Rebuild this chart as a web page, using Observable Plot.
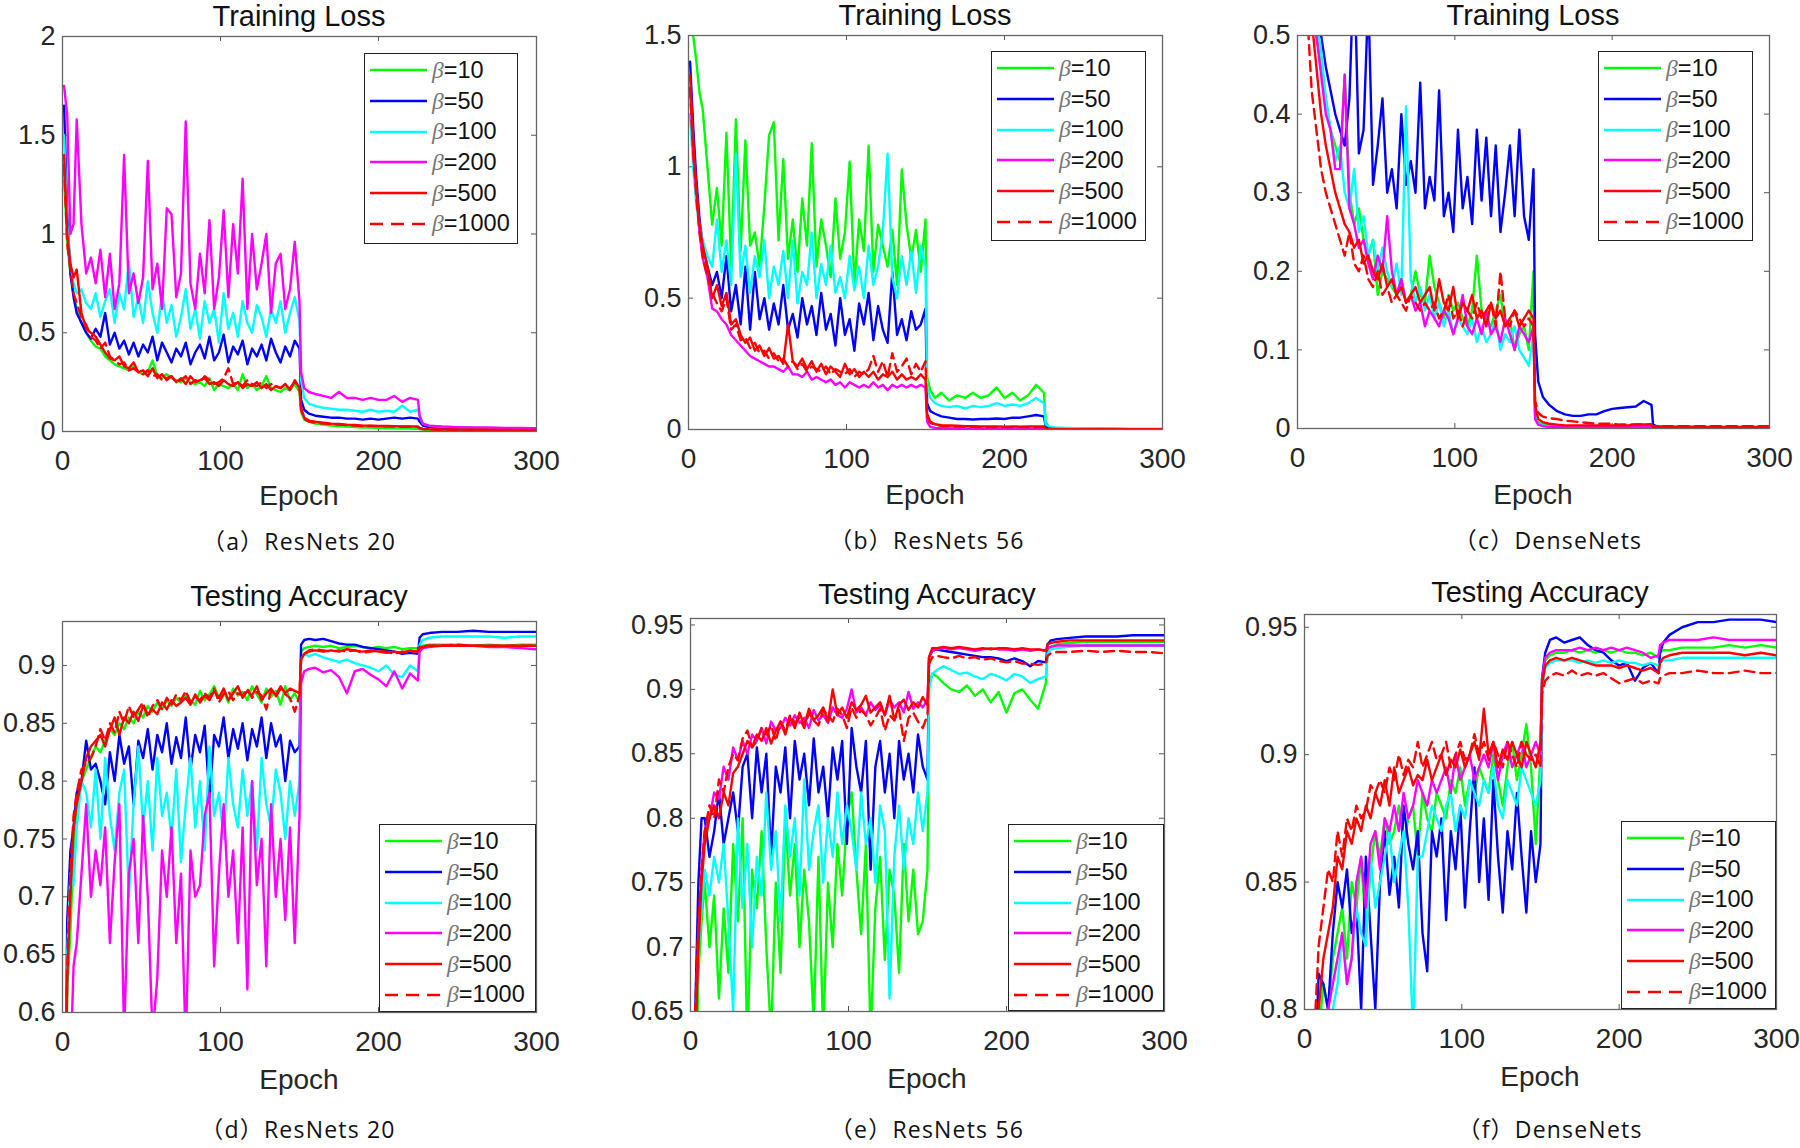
<!DOCTYPE html>
<html><head><meta charset="utf-8">
<script src="https://cdn.jsdelivr.net/npm/d3@7"></script>
<script src="https://cdn.jsdelivr.net/npm/@observablehq/plot@0.6"></script>
<style>
html,body{margin:0;padding:0;background:#fff;}
#page{position:relative;width:1800px;height:1148px;overflow:hidden;background:#fff;}
.lbl{position:absolute;transform:translate(-50%,-50%);white-space:nowrap;line-height:1;}
.title{font:29px "Liberation Sans",Arial,sans-serif;color:#111;}
.axl{font:28px "Liberation Sans",Arial,sans-serif;color:#262626;}
.cap{font-family:"Open Sans","Noto Sans CJK SC",sans-serif;font-size:23px;color:#111;letter-spacing:1.2px;line-height:1.2;}
.legend{position:absolute;box-sizing:border-box;border:1.5px solid #222;background:#fff;padding-top:1px;}
.row{display:flex;align-items:center;font:23.5px "Liberation Sans",Arial,sans-serif;color:#111;height:30.7px;}
.row svg{margin-left:5px;margin-right:5px;flex:none;}
.beta{font-family:"Liberation Serif","DejaVu Serif",serif;font-style:italic;color:#777;}
</style></head><body><div id="page"></div>
<script>
// ---------------- data ----------------
const epochs = [1,3,5,7,9,12,15,18,21,24,27,30,33,36,39,42,45,48,51,54,57,60,63,66,69,72,75,78,81,84,87,90,93,96,99,102,105,108,111,114,117,120,123,126,129,132,135,138,141,144,147,150,
  151,153,156,160,165,170,175,180,185,190,195,200,205,210,215,220,225,
  226,228,232,240,250,260,270,280,290,300];
const betaLabels = ["10","50","100","200","500","1000"];
const xTicks = [0,100,200,300];

// (a) Training loss, ResNets 20
const lossA10 = [1.30,0.95,0.80,0.70,0.62,0.55,0.50,0.46,0.43,0.42, 0.38,0.36,0.34,0.33,0.32,0.31,0.33,0.30,0.29,0.30, 0.36,0.28,0.27,0.29,0.27,0.26,0.25,0.27,0.25,0.24, 0.25,0.23,0.27,0.21,0.24,0.23,0.22,0.24,0.21,0.29, 0.22,0.24,0.21,0.23,0.28,0.22,0.21,0.20,0.22,0.21, 0.24,0.20,
  0.10,0.06,0.05,0.04,0.035,0.03,0.028,0.025,0.022,0.02,0.02,0.018,0.018,0.016,0.015,0.015,0.014,
  0.012,0.01,0.008,0.007,0.006,0.006,0.005,0.005,0.005,0.005];
const lossA50 = [1.65,1.10,0.80,0.68,0.60,0.55,0.50,0.47,0.52,0.48, 0.60,0.44,0.50,0.42,0.46,0.39,0.45,0.38,0.44,0.40, 0.48,0.36,0.45,0.40,0.35,0.42,0.38,0.45,0.34,0.40, 0.44,0.37,0.48,0.36,0.40,0.49,0.35,0.43,0.39,0.46, 0.34,0.42,0.38,0.44,0.36,0.47,0.40,0.35,0.43,0.38, 0.46,0.42,
  0.16,0.11,0.09,0.08,0.075,0.07,0.07,0.065,0.065,0.06,0.065,0.06,0.065,0.07,0.065,0.07,0.065,
  0.05,0.03,0.022,0.018,0.015,0.013,0.012,0.011,0.01,0.01];
const lossA100 = [1.50,1.05,0.85,0.75,0.70,0.72,0.65,0.62,0.70,0.58, 0.66,0.72,0.55,0.70,0.62,0.86,0.58,0.68,0.55,0.76, 0.60,0.50,0.70,0.55,0.64,0.48,0.58,0.72,0.52,0.62, 0.47,0.66,0.55,0.62,0.45,0.70,0.52,0.60,0.48,0.66, 0.55,0.50,0.64,0.58,0.48,0.62,0.55,0.66,0.50,0.60, 0.68,0.56,
  0.26,0.17,0.14,0.13,0.12,0.115,0.11,0.11,0.105,0.10,0.11,0.10,0.105,0.10,0.13,0.10,0.11,
  0.08,0.04,0.03,0.024,0.02,0.018,0.016,0.015,0.014,0.013];
const lossA200 = [1.75,1.60,1.00,1.05,1.58,1.05,0.80,0.88,0.75,0.92, 0.68,0.90,0.62,0.75,1.40,0.70,0.80,0.65,0.78,1.37, 0.72,0.85,0.62,1.13,1.10,0.68,0.80,1.57,0.75,0.62, 0.90,0.70,1.07,0.62,0.78,1.12,0.68,1.05,0.80,1.28, 0.62,1.00,0.72,0.85,1.00,0.60,0.85,0.90,0.62,0.72, 0.96,0.66,
  0.30,0.22,0.20,0.19,0.18,0.17,0.20,0.17,0.17,0.16,0.17,0.16,0.16,0.18,0.15,0.17,0.16,
  0.08,0.04,0.03,0.025,0.022,0.02,0.02,0.018,0.018,0.017];
const lossA500 = [1.40,1.00,0.85,0.78,0.82,0.60,0.52,0.50,0.48,0.44, 0.40,0.37,0.36,0.38,0.33,0.32,0.35,0.30,0.31,0.28, 0.32,0.27,0.29,0.26,0.28,0.25,0.27,0.24,0.28,0.25, 0.26,0.27,0.24,0.25,0.23,0.26,0.24,0.23,0.25,0.22, 0.24,0.23,0.25,0.22,0.24,0.21,0.23,0.22,0.24,0.21, 0.26,0.22,
  0.12,0.07,0.055,0.05,0.045,0.04,0.038,0.035,0.033,0.03,0.03,0.028,0.028,0.027,0.026,0.026,0.025,
  0.018,0.014,0.012,0.01,0.01,0.009,0.009,0.008,0.008,0.008];
const lossA1000 = [1.35,0.95,0.82,0.70,0.65,0.58,0.54,0.48,0.46,0.42, 0.45,0.38,0.36,0.34,0.35,0.31,0.32,0.30,0.29,0.31, 0.28,0.29,0.26,0.27,0.28,0.25,0.26,0.28,0.24,0.26, 0.25,0.28,0.26,0.24,0.25,0.27,0.32,0.24,0.25,0.23, 0.26,0.24,0.23,0.25,0.22,0.24,0.23,0.22,0.24,0.22, 0.25,0.23,
  0.11,0.065,0.05,0.045,0.04,0.037,0.035,0.032,0.03,0.028,0.028,0.027,0.026,0.025,0.024,0.024,0.023,
  0.016,0.012,0.01,0.009,0.008,0.008,0.007,0.007,0.007,0.007];

// (b) Training loss, ResNets 56
const lossB10 = [1.60,1.50,1.40,1.28,1.22,1.00,0.78,0.92,0.70,1.13, 0.62,1.18,0.68,1.10,0.70,0.75,0.62,0.85,1.12,1.17, 0.72,1.03,0.65,0.80,0.60,0.88,0.70,1.09,0.62,0.80, 0.70,0.58,0.88,0.65,0.75,1.02,0.55,0.80,0.68,1.08, 0.60,0.78,0.70,0.62,0.76,0.55,0.99,0.78,0.65,0.76, 0.60,0.80,
  0.20,0.15,0.12,0.14,0.11,0.13,0.12,0.14,0.12,0.13,0.16,0.12,0.14,0.11,0.13,0.17,0.14,
  0.03,0.01,0.006,0.004,0.003,0.003,0.002,0.002,0.002,0.002];
const lossB50 = [1.40,1.15,0.95,0.80,0.70,0.62,0.55,0.60,0.50,0.66, 0.45,0.55,0.40,0.62,0.38,0.60,0.42,0.50,0.38,0.48, 0.40,0.55,0.38,0.44,0.35,0.50,0.40,0.47,0.36,0.52, 0.38,0.44,0.32,0.50,0.36,0.42,0.30,0.48,0.40,0.52, 0.34,0.47,0.38,0.33,0.60,0.36,0.42,0.34,0.45,0.38, 0.40,0.46,
  0.10,0.07,0.06,0.05,0.045,0.04,0.04,0.038,0.04,0.04,0.042,0.04,0.045,0.045,0.05,0.055,0.05,
  0.012,0.006,0.004,0.003,0.002,0.002,0.002,0.001,0.001,0.001];
const lossB100 = [1.20,1.00,0.85,0.78,0.72,0.66,0.62,0.80,0.60,0.72, 0.55,1.05,0.58,0.70,0.52,0.66,0.58,0.72,0.50,0.62, 0.55,0.68,0.50,0.72,0.48,0.60,0.55,0.75,0.50,0.63, 0.55,0.70,0.52,0.58,0.50,0.66,0.53,0.62,0.50,0.70, 0.55,0.62,0.75,1.05,0.58,0.50,0.66,0.55,0.68,0.52, 0.70,0.62,
  0.16,0.12,0.10,0.09,0.085,0.09,0.08,0.09,0.085,0.09,0.10,0.09,0.095,0.09,0.10,0.12,0.10,
  0.02,0.012,0.008,0.006,0.004,0.003,0.003,0.002,0.002,0.002];
const lossB200 = [1.30,1.05,0.90,0.75,0.65,0.58,0.46,0.45,0.42,0.40, 0.36,0.34,0.32,0.30,0.28,0.27,0.26,0.25,0.24,0.24, 0.23,0.22,0.24,0.21,0.21,0.20,0.22,0.19,0.20,0.19, 0.18,0.19,0.17,0.18,0.16,0.18,0.17,0.16,0.17,0.16, 0.18,0.16,0.17,0.15,0.17,0.16,0.17,0.16,0.17,0.16, 0.17,0.16,
  0.03,0.01,0.006,0.005,0.004,0.004,0.003,0.003,0.003,0.003,0.003,0.003,0.003,0.003,0.003,0.003,0.003,
  0.002,0.001,0.001,0.001,0.001,0.001,0.001,0.001,0.001,0.001];
const lossB500 = [1.35,1.10,0.92,0.78,0.70,0.62,0.50,0.55,0.47,0.52, 0.40,0.42,0.36,0.33,0.35,0.30,0.32,0.28,0.31,0.27, 0.28,0.25,0.40,0.26,0.24,0.27,0.23,0.26,0.22,0.25, 0.21,0.24,0.22,0.20,0.25,0.21,0.23,0.20,0.22,0.20, 0.22,0.19,0.21,0.20,0.22,0.19,0.21,0.19,0.20,0.19, 0.21,0.19,
  0.06,0.03,0.02,0.016,0.015,0.014,0.013,0.013,0.012,0.012,0.012,0.011,0.012,0.011,0.012,0.012,0.012,
  0.003,0.002,0.002,0.001,0.001,0.001,0.001,0.001,0.001,0.001];
const lossB1000 = [1.30,1.05,0.88,0.75,0.66,0.58,0.52,0.48,0.45,0.50, 0.38,0.40,0.34,0.35,0.31,0.33,0.29,0.30,0.27,0.29, 0.26,0.27,0.24,0.26,0.23,0.25,0.22,0.24,0.23,0.22, 0.24,0.21,0.23,0.22,0.21,0.23,0.20,0.22,0.21,0.23, 0.28,0.22,0.26,0.20,0.29,0.22,0.24,0.27,0.21,0.25, 0.22,0.26,
  0.05,0.025,0.018,0.014,0.012,0.011,0.01,0.01,0.009,0.009,0.009,0.009,0.009,0.009,0.009,0.009,0.009,
  0.003,0.002,0.001,0.001,0.001,0.001,0.001,0.001,0.001,0.001];

// (c) Training loss, DenseNets
const lossC10 = [1.50,1.00,0.80,0.65,0.55,0.50,0.46,0.42,0.38,0.36, 0.34,0.45,0.30,0.26,0.28,0.24,0.22,0.24,0.17,0.20, 0.19,0.18,0.17,0.19,0.16,0.17,0.20,0.17,0.16,0.22, 0.18,0.16,0.14,0.17,0.15,0.16,0.14,0.13,0.15,0.22, 0.15,0.14,0.13,0.15,0.17,0.13,0.14,0.10,0.12,0.13, 0.10,0.20,
  0.02,0.008,0.005,0.004,0.003,0.003,0.003,0.003,0.003,0.003,0.003,0.003,0.003,0.003,0.003,0.003,0.003,
  0.002,0.002,0.002,0.002,0.002,0.002,0.002,0.002,0.002,0.002];
const lossC50 = [1.60,1.10,0.85,0.70,0.60,0.55,0.50,0.46,0.43,0.40, 0.38,0.36,0.42,0.60,0.35,0.38,0.55,0.31,0.36,0.42, 0.30,0.33,0.28,0.40,0.31,0.34,0.30,0.44,0.28,0.32, 0.29,0.43,0.27,0.30,0.25,0.38,0.28,0.32,0.26,0.38, 0.29,0.37,0.27,0.36,0.25,0.30,0.36,0.27,0.38,0.27, 0.24,0.33,
  0.12,0.06,0.04,0.03,0.022,0.018,0.016,0.016,0.018,0.018,0.022,0.025,0.026,0.027,0.028,0.035,0.03,
  0.005,0.003,0.002,0.002,0.002,0.001,0.001,0.001,0.001,0.001];
const lossC100 = [1.55,1.05,0.82,0.66,0.56,0.52,0.48,0.42,0.38,0.34, 0.36,0.30,0.28,0.33,0.25,0.27,0.22,0.24,0.20,0.23, 0.20,0.18,0.21,0.17,0.41,0.19,0.16,0.18,0.15,0.17, 0.14,0.16,0.13,0.15,0.12,0.14,0.13,0.12,0.14,0.11, 0.13,0.11,0.12,0.14,0.10,0.12,0.11,0.13,0.10,0.09, 0.08,0.12,
  0.015,0.006,0.004,0.003,0.002,0.002,0.002,0.002,0.002,0.002,0.002,0.002,0.002,0.002,0.002,0.002,0.002,
  0.001,0.001,0.001,0.001,0.001,0.001,0.001,0.001,0.001,0.001];
const lossC200 = [1.50,1.00,0.78,0.62,0.54,0.50,0.45,0.40,0.38,0.33, 0.33,0.45,0.28,0.26,0.23,0.24,0.21,0.19,0.22,0.20, 0.27,0.20,0.17,0.19,0.16,0.17,0.15,0.16,0.13,0.15, 0.14,0.13,0.15,0.14,0.12,0.14,0.17,0.13,0.12,0.14, 0.12,0.15,0.12,0.13,0.11,0.14,0.12,0.10,0.13,0.12, 0.11,0.13,
  0.012,0.005,0.003,0.002,0.002,0.002,0.002,0.002,0.002,0.002,0.002,0.002,0.002,0.002,0.002,0.002,0.002,
  0.001,0.001,0.001,0.001,0.001,0.001,0.001,0.001,0.001,0.001];
const lossC500 = [1.40,0.95,0.75,0.60,0.52,0.46,0.40,0.36,0.33,0.30, 0.28,0.26,0.25,0.23,0.24,0.21,0.22,0.20,0.19,0.21, 0.18,0.19,0.17,0.18,0.16,0.17,0.18,0.16,0.17,0.18, 0.15,0.19,0.16,0.15,0.18,0.14,0.16,0.15,0.17,0.14, 0.15,0.13,0.16,0.14,0.15,0.13,0.14,0.15,0.13,0.14, 0.15,0.14,
  0.03,0.012,0.008,0.006,0.005,0.004,0.004,0.004,0.004,0.004,0.004,0.004,0.004,0.004,0.005,0.005,0.005,
  0.002,0.002,0.002,0.002,0.002,0.002,0.002,0.002,0.002,0.002];
const lossC1000 = [1.20,0.80,0.60,0.50,0.43,0.38,0.33,0.30,0.28,0.26, 0.24,0.22,0.25,0.21,0.20,0.22,0.19,0.18,0.20,0.17, 0.18,0.16,0.17,0.16,0.15,0.17,0.16,0.15,0.16,0.15, 0.16,0.14,0.15,0.17,0.14,0.15,0.13,0.15,0.14,0.16, 0.14,0.15,0.16,0.13,0.20,0.14,0.13,0.15,0.14,0.13, 0.14,0.13,
  0.035,0.02,0.015,0.013,0.012,0.01,0.009,0.008,0.007,0.006,0.006,0.006,0.005,0.005,0.005,0.005,0.005,
  0.003,0.003,0.003,0.003,0.003,0.003,0.003,0.003,0.003,0.003];

// (d) Testing accuracy, ResNets 20
const accD10 = [0.40,0.62,0.67,0.74,0.78,0.80,0.81,0.82,0.83,0.825, 0.835,0.845,0.84,0.85,0.845,0.855,0.85,0.86,0.855,0.865, 0.86,0.868,0.862,0.87,0.865,0.872,0.868,0.875,0.87,0.866, 0.878,0.87,0.875,0.882,0.872,0.878,0.868,0.88,0.874,0.877, 0.87,0.882,0.875,0.868,0.88,0.873,0.878,0.866,0.882,0.87, 0.876,0.868,
  0.912,0.915,0.916,0.917,0.916,0.917,0.915,0.916,0.917,0.916,0.915,0.916,0.915,0.916,0.914,0.915,0.915,
  0.916,0.917,0.918,0.918,0.918,0.917,0.918,0.917,0.918,0.918];
const accD50 = [0.45,0.68,0.74,0.76,0.79,0.80,0.835,0.81,0.815,0.80, 0.78,0.825,0.80,0.84,0.815,0.83,0.78,0.835,0.82,0.845, 0.81,0.84,0.825,0.85,0.815,0.838,0.82,0.855,0.81,0.84, 0.825,0.848,0.785,0.84,0.83,0.855,0.82,0.845,0.828,0.85, 0.818,0.845,0.83,0.855,0.82,0.85,0.83,0.84,0.80,0.835, 0.825,0.83,
  0.918,0.922,0.923,0.922,0.923,0.921,0.919,0.918,0.918,0.916,0.915,0.914,0.913,0.912,0.91,0.911,0.91,
  0.924,0.927,0.928,0.929,0.929,0.93,0.929,0.929,0.929,0.929];
const accD100 = [0.42,0.65,0.72,0.71,0.76,0.80,0.79,0.76,0.81,0.75, 0.82,0.77,0.74,0.79,0.81,0.70,0.78,0.83,0.76,0.80, 0.74,0.82,0.77,0.79,0.75,0.81,0.73,0.78,0.82,0.76, 0.80,0.74,0.83,0.77,0.79,0.75,0.82,0.78,0.76,0.81, 0.77,0.80,0.74,0.82,0.78,0.76,0.81,0.79,0.75,0.80, 0.77,0.80,
  0.905,0.91,0.908,0.91,0.907,0.905,0.903,0.905,0.902,0.90,0.898,0.895,0.9,0.892,0.89,0.9,0.895,
  0.918,0.922,0.924,0.925,0.925,0.925,0.925,0.924,0.925,0.925];
const accD200 = [0.35,0.50,0.55,0.64,0.66,0.72,0.78,0.70,0.74,0.71, 0.76,0.66,0.73,0.78,0.58,0.72,0.75,0.66,0.77,0.70, 0.58,0.63,0.74,0.70,0.76,0.66,0.72,0.57,0.74,0.70, 0.71,0.77,0.79,0.64,0.72,0.78,0.70,0.74,0.66,0.76, 0.62,0.80,0.71,0.75,0.64,0.78,0.70,0.75,0.68,0.76, 0.66,0.77,
  0.885,0.895,0.897,0.898,0.894,0.896,0.89,0.876,0.895,0.897,0.892,0.888,0.882,0.895,0.88,0.893,0.887,
  0.912,0.915,0.916,0.917,0.917,0.917,0.916,0.916,0.915,0.914];
const accD500 = [0.40,0.63,0.70,0.76,0.78,0.80,0.82,0.83,0.835,0.84, 0.83,0.845,0.855,0.84,0.855,0.85,0.86,0.852,0.865,0.858, 0.862,0.858,0.868,0.862,0.87,0.865,0.868,0.872,0.866,0.875, 0.868,0.874,0.87,0.878,0.872,0.88,0.87,0.876,0.882,0.872, 0.878,0.874,0.882,0.87,0.876,0.88,0.874,0.882,0.876,0.88, 0.878,0.876,
  0.905,0.91,0.912,0.913,0.912,0.913,0.912,0.914,0.913,0.912,0.913,0.912,0.911,0.912,0.911,0.913,0.912,
  0.915,0.916,0.917,0.917,0.917,0.917,0.917,0.917,0.917,0.917];
const accD1000 = [0.42,0.64,0.72,0.77,0.79,0.81,0.815,0.82,0.83,0.845, 0.835,0.85,0.842,0.86,0.85,0.865,0.855,0.862,0.868,0.855, 0.865,0.87,0.862,0.872,0.866,0.875,0.87,0.878,0.868,0.873, 0.87,0.876,0.872,0.88,0.868,0.875,0.878,0.87,0.876,0.874, 0.88,0.872,0.877,0.874,0.862,0.878,0.873,0.88,0.875,0.872, 0.86,0.874,
  0.906,0.91,0.913,0.914,0.913,0.912,0.913,0.912,0.913,0.911,0.912,0.913,0.912,0.91,0.912,0.911,0.913,
  0.916,0.917,0.917,0.917,0.918,0.917,0.917,0.917,0.917,0.917];

// (e) Testing accuracy, ResNets 56
const accE10 = [0.40,0.55,0.68,0.72,0.75,0.70,0.74,0.66,0.73,0.68, 0.78,0.72,0.80,0.62,0.76,0.73,0.79,0.70,0.63,0.75, 0.68,0.80,0.74,0.78,0.70,0.76,0.72,0.64,0.77,0.63, 0.75,0.70,0.78,0.74,0.80,0.82,0.76,0.71,0.78,0.63, 0.73,0.77,0.69,0.76,0.74,0.68,0.78,0.72,0.76,0.71, 0.72,0.76,
  0.905,0.912,0.91,0.905,0.9,0.898,0.903,0.895,0.9,0.89,0.898,0.882,0.897,0.9,0.892,0.885,0.905,
  0.93,0.933,0.935,0.936,0.937,0.937,0.937,0.937,0.937,0.937];
const accE50 = [0.45,0.65,0.75,0.80,0.80,0.77,0.79,0.82,0.78,0.80, 0.82,0.79,0.84,0.85,0.80,0.855,0.82,0.85,0.77,0.84, 0.82,0.855,0.80,0.86,0.83,0.85,0.81,0.862,0.82,0.84, 0.80,0.855,0.83,0.86,0.78,0.87,0.84,0.82,0.86,0.76, 0.84,0.86,0.82,0.85,0.80,0.86,0.83,0.85,0.82,0.865, 0.84,0.83,
  0.925,0.93,0.931,0.93,0.929,0.928,0.927,0.926,0.925,0.925,0.924,0.922,0.924,0.922,0.918,0.922,0.921,
  0.935,0.938,0.939,0.94,0.941,0.941,0.941,0.942,0.942,0.942];
const accE100 = [0.42,0.62,0.70,0.73,0.76,0.74,0.77,0.75,0.78,0.72, 0.65,0.80,0.73,0.78,0.70,0.77,0.74,0.82,0.76,0.79, 0.72,0.81,0.77,0.80,0.74,0.83,0.76,0.79,0.81,0.75, 0.80,0.77,0.82,0.78,0.81,0.79,0.76,0.82,0.78,0.80, 0.75,0.81,0.79,0.66,0.77,0.81,0.76,0.80,0.78,0.82, 0.79,0.82,
  0.9,0.912,0.915,0.918,0.915,0.912,0.913,0.91,0.908,0.912,0.91,0.907,0.912,0.91,0.905,0.908,0.91,
  0.928,0.931,0.932,0.933,0.934,0.934,0.934,0.934,0.934,0.934];
const accE200 = [0.40,0.63,0.71,0.76,0.79,0.80,0.82,0.815,0.84,0.83, 0.855,0.845,0.86,0.85,0.865,0.86,0.87,0.858,0.875,0.868, 0.87,0.878,0.872,0.88,0.874,0.878,0.87,0.884,0.876,0.88, 0.874,0.886,0.88,0.878,0.885,0.9,0.882,0.886,0.88,0.89, 0.884,0.888,0.88,0.892,0.886,0.89,0.882,0.898,0.885,0.89, 0.886,0.892,
  0.925,0.93,0.931,0.932,0.931,0.932,0.931,0.93,0.931,0.932,0.931,0.931,0.93,0.931,0.93,0.931,0.93,
  0.932,0.933,0.934,0.934,0.934,0.934,0.934,0.934,0.934,0.934];
const accE500 = [0.38,0.62,0.70,0.75,0.78,0.80,0.81,0.80,0.82,0.81, 0.835,0.84,0.85,0.86,0.855,0.865,0.86,0.87,0.858,0.868, 0.875,0.865,0.878,0.87,0.882,0.872,0.885,0.876,0.88,0.886, 0.875,0.9,0.88,0.886,0.878,0.89,0.884,0.888,0.895,0.882, 0.886,0.89,0.88,0.895,0.876,0.888,0.892,0.884,0.89,0.886, 0.894,0.888,
  0.925,0.932,0.932,0.933,0.932,0.933,0.932,0.931,0.932,0.931,0.932,0.932,0.931,0.932,0.931,0.931,0.93,
  0.935,0.936,0.937,0.938,0.938,0.938,0.938,0.938,0.938,0.938];
const accE1000 = [0.40,0.65,0.72,0.76,0.79,0.81,0.80,0.83,0.82,0.84, 0.85,0.845,0.862,0.868,0.855,0.86,0.87,0.865,0.872,0.86, 0.875,0.868,0.88,0.874,0.878,0.87,0.882,0.876,0.872,0.884, 0.88,0.875,0.885,0.88,0.87,0.886,0.878,0.884,0.88,0.872, 0.878,0.885,0.868,0.88,0.876,0.884,0.86,0.878,0.882,0.875, 0.87,0.88,
  0.92,0.925,0.926,0.925,0.924,0.926,0.924,0.925,0.923,0.924,0.922,0.921,0.922,0.92,0.92,0.919,0.92,
  0.926,0.928,0.929,0.929,0.93,0.929,0.93,0.929,0.929,0.928];

// (f) Testing accuracy, DenseNets
const accF10 = [0.55,0.65,0.72,0.76,0.79,0.81,0.80,0.82,0.83,0.84, 0.82,0.85,0.84,0.86,0.83,0.855,0.87,0.86,0.875,0.865, 0.87,0.88,0.865,0.875,0.88,0.86,0.885,0.875,0.87,0.885, 0.88,0.875,0.89,0.885,0.895,0.88,0.89,0.885,0.895,0.89, 0.885,0.9,0.89,0.88,0.895,0.905,0.89,0.9,0.912,0.895, 0.865,0.9,
  0.93,0.937,0.939,0.94,0.94,0.941,0.94,0.941,0.94,0.941,0.94,0.941,0.94,0.94,0.939,0.94,0.938,
  0.94,0.941,0.941,0.942,0.942,0.942,0.943,0.942,0.943,0.942];
const accF50 = [0.55,0.66,0.73,0.78,0.814,0.81,0.80,0.83,0.85,0.84, 0.855,0.83,0.84,0.80,0.86,0.83,0.80,0.85,0.87,0.845, 0.86,0.84,0.88,0.865,0.855,0.87,0.83,0.815,0.87,0.86, 0.875,0.835,0.87,0.855,0.88,0.84,0.87,0.895,0.85,0.875, 0.843,0.89,0.86,0.838,0.87,0.855,0.885,0.86,0.838,0.87, 0.85,0.865,
  0.93,0.94,0.945,0.946,0.944,0.945,0.946,0.943,0.941,0.94,0.937,0.935,0.936,0.929,0.934,0.936,0.932,
  0.94,0.944,0.947,0.95,0.952,0.952,0.953,0.953,0.953,0.952];
const accF100 = [0.52,0.62,0.70,0.74,0.77,0.78,0.79,0.80,0.81,0.83, 0.81,0.82,0.84,0.83,0.825,0.86,0.84,0.85,0.86,0.87, 0.85,0.86,0.87,0.84,0.79,0.86,0.86,0.87,0.88,0.875, 0.87,0.88,0.885,0.87,0.88,0.875,0.89,0.885,0.88,0.89, 0.885,0.895,0.88,0.875,0.89,0.885,0.88,0.895,0.89,0.885, 0.88,0.89,
  0.925,0.934,0.936,0.937,0.937,0.937,0.936,0.937,0.936,0.937,0.936,0.937,0.936,0.936,0.935,0.936,0.935,
  0.936,0.937,0.937,0.938,0.938,0.938,0.938,0.938,0.938,0.938];
const accF200 = [0.50,0.62,0.70,0.74,0.76,0.78,0.80,0.81,0.82,0.83, 0.81,0.82,0.85,0.86,0.84,0.865,0.87,0.855,0.875,0.87, 0.88,0.87,0.885,0.875,0.88,0.89,0.885,0.88,0.89,0.885, 0.89,0.895,0.885,0.9,0.89,0.895,0.9,0.89,0.895,0.9, 0.895,0.905,0.89,0.9,0.905,0.895,0.9,0.905,0.895,0.9, 0.905,0.9,
  0.93,0.938,0.94,0.941,0.941,0.941,0.942,0.941,0.942,0.941,0.942,0.941,0.942,0.941,0.94,0.938,0.939,
  0.943,0.944,0.945,0.945,0.945,0.946,0.945,0.945,0.945,0.945];
const accF500 = [0.55,0.66,0.74,0.78,0.80,0.82,0.83,0.84,0.86,0.855, 0.87,0.865,0.875,0.87,0.88,0.875,0.885,0.88,0.89,0.88, 0.895,0.885,0.89,0.895,0.888,0.892,0.89,0.898,0.89,0.895, 0.9,0.892,0.898,0.895,0.902,0.895,0.9,0.905,0.898,0.918, 0.9,0.905,0.895,0.902,0.898,0.905,0.9,0.895,0.905,0.9, 0.895,0.905,
  0.928,0.935,0.937,0.938,0.937,0.938,0.937,0.936,0.935,0.935,0.935,0.934,0.935,0.934,0.933,0.934,0.932,
  0.936,0.938,0.939,0.94,0.94,0.94,0.94,0.939,0.94,0.939];
const accF1000 = [0.58,0.70,0.77,0.80,0.825,0.84,0.855,0.85,0.87,0.86, 0.875,0.87,0.88,0.875,0.878,0.888,0.885,0.89,0.885,0.895, 0.89,0.9,0.892,0.898,0.895,0.905,0.895,0.9,0.905,0.898, 0.9,0.905,0.895,0.9,0.905,0.898,0.9,0.908,0.9,0.905, 0.898,0.905,0.9,0.895,0.905,0.9,0.895,0.905,0.9,0.898, 0.9,0.895,
  0.924,0.929,0.931,0.932,0.931,0.933,0.931,0.932,0.931,0.932,0.93,0.928,0.929,0.93,0.928,0.929,0.928,
  0.93,0.931,0.932,0.932,0.933,0.932,0.932,0.933,0.932,0.932];

// ---------------- layout / style ----------------
const colors = ["#00ff00","#0000ff","#00ffff","#ff00ff","#ff0000","#ff0000"];
const dashes = [null,null,null,null,null,"10,6"];
const panels = [
  {title:"Training Loss", caption:"（a）ResNets 20", series:[lossA10,lossA50,lossA100,lossA200,lossA500,lossA1000],
   yDomain:[0,2], yTicks:[0,0.5,1,1.5,2], box:{L:62,R:536,T:36,B:431}, titleY:16, labelY:496, cap:{x:299,y:542}, legend:{x:364,y:53,w:154,h:191}},
  {title:"Training Loss", caption:"（b）ResNets 56", series:[lossB10,lossB50,lossB100,lossB200,lossB500,lossB1000],
   yDomain:[0,1.5], yTicks:[0,0.5,1,1.5], box:{L:688,R:1162,T:35,B:429}, titleY:15, labelY:495, cap:{x:927,y:541}, legend:{x:991,y:51,w:155,h:190}},
  {title:"Training Loss", caption:"（c）DenseNets", series:[lossC10,lossC50,lossC100,lossC200,lossC500,lossC1000],
   yDomain:[0,0.5], yTicks:[0,0.1,0.2,0.3,0.4,0.5], box:{L:1297,R:1769,T:35,B:428}, titleY:15, labelY:495, cap:{x:1548,y:541}, legend:{x:1598,y:51,w:155,h:190}},
  {title:"Testing Accuracy", caption:"（d）ResNets 20", series:[accD10,accD50,accD100,accD200,accD500,accD1000],
   yDomain:[0.6,0.938], yTicks:[0.6,0.65,0.7,0.75,0.8,0.85,0.9], box:{L:62,R:536,T:621,B:1012}, titleY:596, labelY:1080, cap:{x:298,y:1130}, legend:{x:379,y:824,w:157,h:188}},
  {title:"Testing Accuracy", caption:"（e）ResNets 56", series:[accE10,accE50,accE100,accE200,accE500,accE1000],
   yDomain:[0.65,0.955], yTicks:[0.65,0.7,0.75,0.8,0.85,0.9,0.95], box:{L:690,R:1164,T:618,B:1011}, titleY:594, labelY:1079, cap:{x:927,y:1130}, legend:{x:1008,y:824,w:156,h:187}},
  {title:"Testing Accuracy", caption:"（f）DenseNets", series:[accF10,accF50,accF100,accF200,accF500,accF1000],
   yDomain:[0.8,0.955], yTicks:[0.8,0.85,0.9,0.95], box:{L:1304,R:1776,T:614,B:1009}, titleY:592, labelY:1077, cap:{x:1550,y:1130}, legend:{x:1621,y:821,w:155,h:188}}
];

// sanity check
panels.forEach((p,pi)=>p.series.forEach((s,si)=>{ if (s.length!==epochs.length) throw new Error("panel "+pi+" series "+si+" length "+s.length); }));

const page = document.getElementById("page");
const ML=62, MR=16, MT=6, MB=50;
const fmt = d3.format("~g");
const axisColor = "#262626";

function addText(cls, text, x, y) {
  const d = document.createElement("div");
  d.className = "lbl " + cls; d.textContent = text;
  d.style.left = x + "px"; d.style.top = y + "px";
  page.appendChild(d);
}

for (const p of panels) {
  const {L,R,T,B} = p.box;
  const w = R - L, h = B - T;
  const [y0, y1] = p.yDomain;
  const kx = 5 * 300 / w, ky = 5 * (y1 - y0) / h;
  const marks = [
    Plot.ruleX(xTicks, {x: d => d, y1: () => y0, y2: () => y0 + ky, stroke: "#555"}),
    Plot.ruleX(xTicks, {x: d => d, y1: () => y1, y2: () => y1 - ky, stroke: "#555"}),
    Plot.ruleY(p.yTicks, {y: d => d, x1: () => 0, x2: () => kx, stroke: "#555"}),
    Plot.ruleY(p.yTicks, {y: d => d, x1: () => 300, x2: () => 300 - kx, stroke: "#555"})
  ];
  p.series.forEach((vals, i) => {
    const rows = epochs.map((e, j) => ({epoch: e, value: vals[j], beta: betaLabels[i]}));
    const opts = {x: "epoch", y: "value", stroke: colors[i], strokeWidth: 2.4, clip: true};
    if (dashes[i]) opts.strokeDasharray = dashes[i];
    marks.push(Plot.line(rows, opts));
  });
  marks.push(Plot.frame({stroke: "#666", strokeWidth: 1.3}));
  marks.push(Plot.axisX({ticks: xTicks, tickSize: 0, tickPadding: 19, label: null, tickFormat: fmt, fontSize: 28, fill: axisColor}));
  marks.push(Plot.axisY({ticks: p.yTicks, tickSize: 0, tickPadding: 7, label: null, tickFormat: fmt, fontSize: 27, fill: axisColor}));
  const svg = Plot.plot({
    width: w + ML + MR, height: h + MT + MB,
    marginLeft: ML, marginRight: MR, marginTop: MT, marginBottom: MB,
    x: {domain: [0, 300]},
    y: {domain: p.yDomain},
    style: {background: "transparent", fontFamily: "'Liberation Sans', Arial, sans-serif", fontSize: "28px", color: axisColor, overflow: "visible", maxWidth: "none"},
    marks
  });
  svg.style.position = "absolute";
  svg.style.left = (L - ML) + "px";
  svg.style.top = (T - MT) + "px";
  page.appendChild(svg);

  // legend
  const lg = document.createElement("div");
  lg.className = "legend";
  Object.assign(lg.style, {left: p.legend.x + "px", top: p.legend.y + "px", width: p.legend.w + "px", height: p.legend.h + "px"});
  betaLabels.forEach((b, i) => {
    const row = document.createElement("div");
    row.className = "row";
    const dash = dashes[i] ? ` stroke-dasharray="13,8"` : "";
    row.innerHTML = `<svg width="57" height="8"><line x1="0" y1="4" x2="57" y2="4" stroke="${colors[i]}" stroke-width="2.7"${dash}/></svg><span class="beta">β</span><span>=${b}</span>`;
    lg.appendChild(row);
  });
  page.appendChild(lg);

  const cx = (L + R) / 2;
  addText("title", p.title, cx, p.titleY);
  addText("axl", "Epoch", cx, p.labelY);
  addText("cap", p.caption, p.cap.x, p.cap.y);
}
</script></body></html>
